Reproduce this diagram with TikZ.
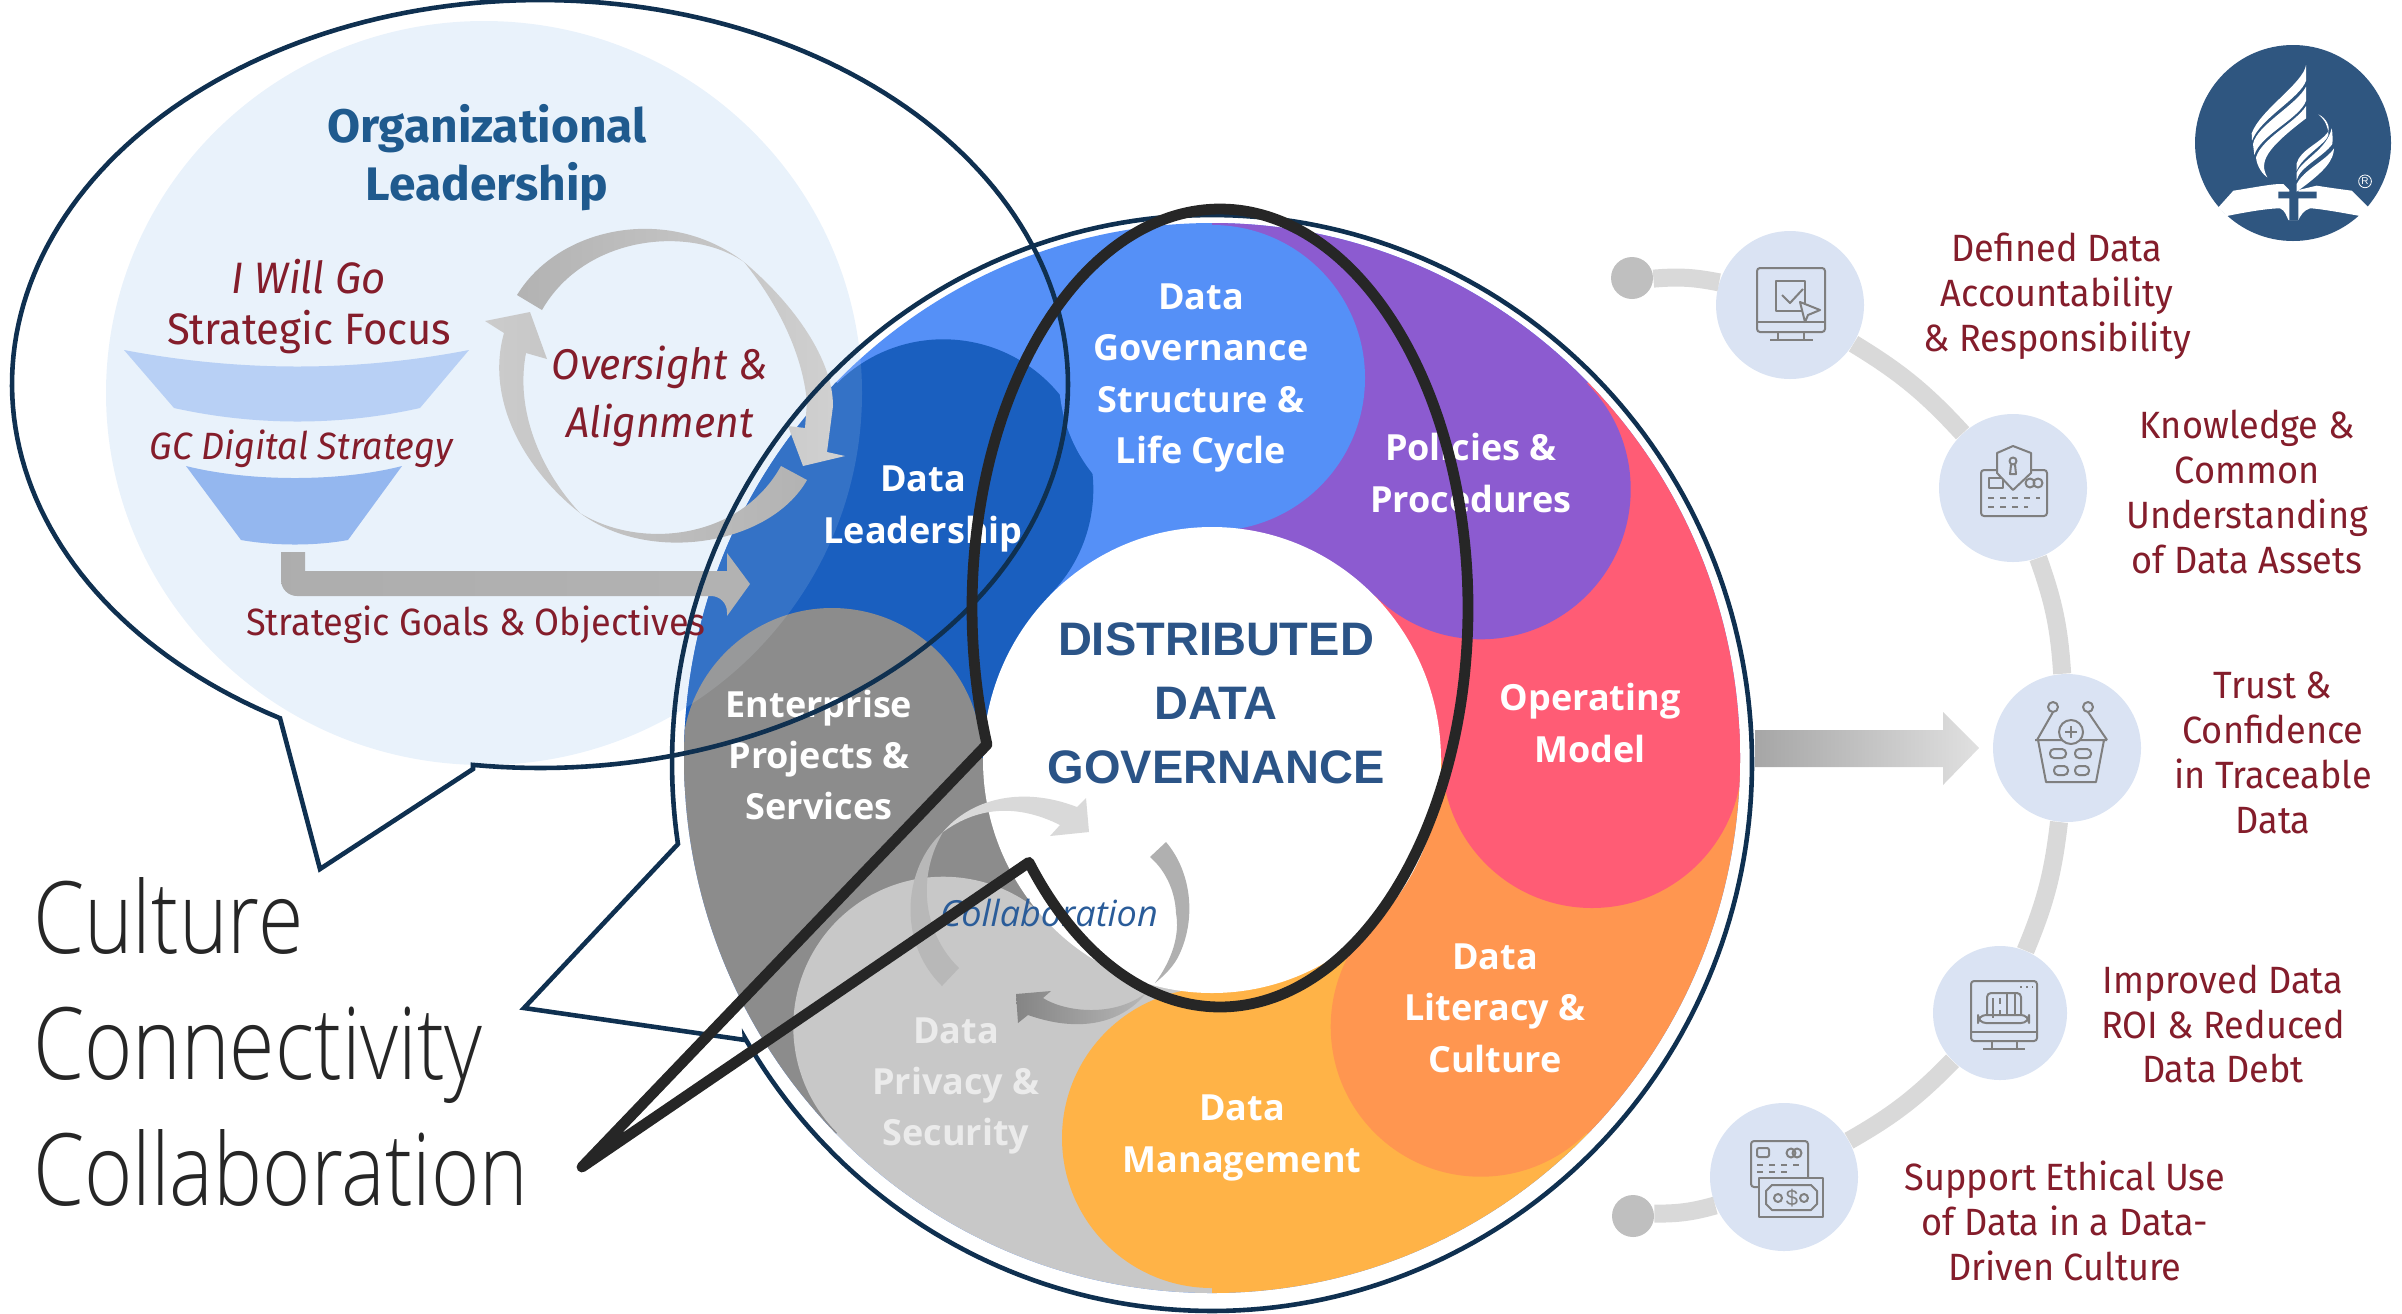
\documentclass[tikz,border=0pt]{standalone}
\usepackage{fontspec}
\setmainfont{Open Sans}
\newfontfamily\bahn[FakeStretch=.95]{Fira Sans}
\newfontfamily\bahnb[FakeStretch=1.02]{Fira Sans}
\newfontfamily\bigf[FakeStretch=.825]{Open Sans Light}
\newfontfamily\arialf{Liberation Sans}
\definecolor{navyln}{HTML}{0F3050}
\definecolor{bgblue}{HTML}{E9F2FB}
\definecolor{funA}{HTML}{B8D0F5}
\definecolor{funB}{HTML}{94B7EF}
\definecolor{inkred}{HTML}{841D2B}
\definecolor{inkblue}{HTML}{1F5A8E}
\definecolor{midblue}{HTML}{2B5487}
\definecolor{colblue}{HTML}{2A5C99}
\definecolor{dgblue}{HTML}{5590F7}
\definecolor{ldblue}{HTML}{1A5FBF}
\definecolor{dkgray}{HTML}{8C8C8C}
\definecolor{ltgray}{HTML}{C8C8C8}
\definecolor{yel}{HTML}{FFB347}
\definecolor{ora}{HTML}{FF9650}
\definecolor{redd}{HTML}{FF5C75}
\definecolor{pur}{HTML}{8C5BD0}
\definecolor{iconbg}{HTML}{DAE3F3}
\definecolor{iconln}{HTML}{7F7F7F}
\definecolor{logoblue}{HTML}{2F5680}
\tikzset{
  wheellab/.style={text=white,align=center,font=\bfseries\fontsize{18}{25.7}\selectfont},
  redlab/.style={text=inkred,align=center,font=\bahn\fontsize{19}{22.4}\selectfont},
  redit/.style={text=inkred,align=center,font=\bahn\itshape\fontsize{22}{25.5}\selectfont},
  iconcirc/.style={circle,fill=iconbg,minimum size=74pt,inner sep=0pt},
  armdot/.style={circle,fill=black!25,minimum size=21pt,inner sep=0pt},
  armline/.style={draw=black!15,line width=9pt},
  ic/.style={draw=iconln,line width=1pt,line join=round},
  navyline/.style={draw=navyln,line width=2.3pt,line join=miter},
  blackline/.style={draw=black!85,line width=5.4pt,line join=round},
}
% #1 colour, #2 tail angle, #3 head angle
\newcommand{\ringseg}[3]{%
  \fill[#1] (0,0) -- (#2:900) -- ({(#2+#3)/2}:1000) -- (#3:900) -- cycle;
  \fill[#1] (#3:380) circle[radius=150];
}
\begin{document}
\begin{tikzpicture}[x=0.5pt,y=-0.5pt]
\useasboundingbox (0,0) rectangle (2402,1313);
% left pale ellipse
\fill[bgblue] (484,393) circle[x radius=378,y radius=372];
% funnels
\fill[funA] (124,350) .. controls (240,372) and (355,372) .. (469,350) -- (420,408)
  .. controls (340,426) and (255,426) .. (174,408) -- cycle;
\fill[funB] (186,466) .. controls (250,482) and (340,482) .. (402,466) -- (348,540)
  .. controls (315,546) and (275,546) .. (241,540) -- cycle;
% wheel
\begin{scope}[shift={(1212,758)}]
  \begin{scope}
    \clip (0,0) circle[x radius=528,y radius=535];
    \fill[dgblue] (-600,-600) rectangle (600,600);
    \ringseg{ldblue}{180}{225}
    \ringseg{dkgray}{135}{180}
    \ringseg{ltgray}{90}{135}
    \ringseg{yel}{45}{90}
    \ringseg{ora}{0}{45}
    \ringseg{redd}{-45}{0}
    \ringseg{pur}{-90}{-45}
    \fill[dgblue] (-90:380) circle[radius=153];
    % pale overlay of the ellipse
    \fill[bgblue,opacity=.13] (484-1212,393-758) circle[x radius=378,y radius=372];
  \end{scope}
  \fill[white] (0,2) circle[x radius=229,y radius=233];
\end{scope}
% collaboration arrows
\fill[black!15] (943,832) .. controls (970,800) and (1020,785) .. (1077,807) -- (1086,798) -- (1089,832) -- (1050,836) -- (1060,825)
  .. controls (1020,805) and (980,805) .. (943,832) -- cycle;
\fill[black!28] (943,832) .. controls (905,865) and (895,940) .. (942,986) -- (959,968)
  .. controls (925,935) and (915,880) .. (943,832) -- cycle;
\fill[black!31] (1166,842) .. controls (1190,870) and (1197,915) .. (1180,953) .. controls (1175,965) and (1165,975) .. (1155,983)
  .. controls (1172,960) and (1180,935) .. (1176,913) .. controls (1175,890) and (1165,870) .. (1150,857) -- cycle;
\shade[left color=black!48,right color=black!28]
  (1016,994) -- (1051,991) -- (1043,998) .. controls (1065,1012) and (1115,1018) .. (1147,992)
  .. controls (1125,1020) and (1085,1035) .. (1028,1015) -- (1018,1023) -- cycle;
% text of the wheel
\node[wheellab] (dg) at (1201,378) {Data\\Governance\\Structure \&\\Life Cycle};
\node[wheellab] (ldr) at (923,509) {Data\\Leadership};
\node[wheellab] (pol) at (1471,473) {Policies \&\\Procedures};
\node[wheellab] (opm) at (1590,723) {Operating\\Model};
\node[wheellab] (lit) at (1495,1008) {Data\\Literacy \&\\Culture};
\node[wheellab] (mgt) at (1242,1138) {Data\\Management};
\node[wheellab,text=white!92!black] (prv) at (956,1086) {Data\\Privacy \&\\Security};
\node[wheellab] (ent) at (819,755) {Enterprise\\Projects \&\\Services};
\node[text=midblue,align=center,font=\arialf\bfseries\fontsize{23.5}{32}\selectfont] (ddg) at (1216,703)
  {DISTRIBUTED\\DATA\\GOVERNANCE};
\node[text=colblue,font=\itshape\fontsize{18}{22}\selectfont] (col) at (1049,913) {Collaboration};
% left texts
\node[text=inkblue,align=center,font=\bahnb\bfseries\fontsize{23.5}{29}\selectfont] (org) at (487,158)
  {Organizational\\Leadership};
\node[redit] (iwg) at (309,307) {I Will Go\\{\upshape Strategic Focus}};
\node[redit,font=\bahn\itshape\fontsize{19}{25}\selectfont] (gcd) at (301,449) {GC Digital Strategy};
\node[redit,font=\bahn\itshape\fontsize{21.5}{29}\selectfont] (ova) at (660,396) {Oversight \&\\Alignment};
\node[redlab,font=\bahn\fontsize{19}{22.4}\selectfont] (sgo) at (476,625) {Strategic Goals \& Objectives};
% oversight arrows
\shade[left color=black!30,right color=black!18]
  (517,295) .. controls (560,225) and (670,205) .. (744,262)
  .. controls (795,305) and (833,360) .. (833,406) -- (827,452) -- (845,456) -- (803,466) -- (788,426) -- (805,428)
  -- (807,402) .. controls (802,350) and (775,300) .. (744,262)
  .. controls (690,225) and (585,235) .. (542,310) -- cycle;
\shade[left color=black!20,right color=black!30]
  (807,480) .. controls (770,545) and (650,565) .. (580,513)
  .. controls (525,470) and (485,400) .. (504,333) -- (485,321) -- (530,312) -- (547,359) -- (526,353)
  .. controls (515,410) and (540,470) .. (580,513)
  .. controls (640,550) and (740,540) .. (781,466) -- cycle;
% goals arrow
\shade[left color=black!32,middle color=black!15,right color=black!30,rounded corners=8pt]
  (281,552) -- (281,596) -- (727,596) [sharp corners] -- (727,616) -- (750,584) -- (727,553) -- (727,571) -- (305,571) -- (305,552) -- cycle;
% output arrow
\shade[left color=black!35,right color=black!12]
  (1755,730) -- (1943,730) -- (1943,712) -- (1979,748) -- (1943,785) -- (1943,767) -- (1755,767) -- cycle;
% big text
\node[anchor=west,text=black!85,align=left,font=\bigf\fontsize{50}{63}\selectfont] (ccc) at (26,1042)
  {Culture\\Connectivity\\Collaboration};
% outlines
\draw[navyline] plot[domain=119.5:457.3,samples=220] ({540+528*cos(\x)},{384+384*sin(\x)}) -- (473,769) -- (320,869) -- cycle;
\draw[navyline] plot[domain=171.5:509.9,samples=260] ({1212+540*cos(\x)},{763+548*sin(\x)}) -- (745,1040) -- (524,1008) -- cycle;
\draw[blackline] plot[domain=160:500.4,samples=260] ({1220+248*cos(\x)},{608+399*sin(\x)}) -- (582,1167) -- cycle;
% right arm
\node[armdot] (d1) at (1632,278) {};
\node[armdot] (d2) at (1633,1216) {};
\node[iconcirc] (c1) at (1790,305) {};
\node[iconcirc] (c2) at (2013,488) {};
\node[iconcirc] (c3) at (2067,748) {};
\node[iconcirc,minimum size=67pt] (c4) at (2000,1013) {};
\node[iconcirc] (c5) at (1784,1177) {};
\draw[armline] (d1) to[bend left=8] (c1);
\draw[armline] (c1) to[bend left=8] (c2);
\draw[armline] (c2) to[bend left=8] (c3);
\draw[armline] (c3) to[bend left=8] (c4);
\draw[armline] (c4) to[bend left=8] (c5);
\draw[armline] (c5) to[bend left=8] (d2);
% right labels
\node[redlab] (l1) at (2057,296) {Defined Data\\Accountability\\\& Responsibility};
\node[redlab] (l2) at (2247,492) {Knowledge \&\\Common\\Understanding\\of Data Assets};
\node[redlab] (l3) at (2273,753) {Trust \&\\Confidence\\in Traceable\\Data};
\node[redlab] (l4) at (2223,1024) {Improved Data\\ROI \& Reduced\\Data Debt};
\node[redlab] (l5) at (2065,1221) {Support Ethical Use\\of Data in a Data-\\Driven Culture};
% icon 1
\draw[ic,rounded corners=1.5pt] (1757,268) rectangle (1825,332);
\draw[ic] (1757,322) -- (1825,322) (1778,332) -- (1778,340) (1804,332) -- (1804,340) (1770,340) -- (1813,340);
\draw[ic] (1776,281) rectangle (1805,311);
\draw[ic] (1782,295) -- (1790,303) -- (1803,289);
\draw[ic,fill=iconbg] (1800,302) -- (1820,310) -- (1808,315) -- (1805,322) -- cycle;
% icon 2
\draw[ic,rounded corners=1.5pt] (1981,470) rectangle (2047,516);
\draw[ic] (1989,478) rectangle (2003,488);
\draw[ic] (2030,483) circle[radius=4.5] (2038,483) circle[radius=4.5];
\draw[ic,fill=iconbg] (2013,446) -- (1997,453) -- (1997,473) -- (2013,490) -- (2031,473) -- (2031,453) -- cycle;
\draw[ic] (2013,461) circle[radius=3.5] (2011,465) -- (2010,474) -- (2016,474) -- (2015,465);
\draw[ic,dashed] (1988,498) -- (2040,498) (1988,507) -- (2028,507);
% icon 3
\draw[ic] (2035,740) -- (2107,740) (2038,740) -- (2046,782) -- (2096,782) -- (2104,740);
\draw[ic] (2037,740) -- (2053,712) (2107,740) -- (2088,712);
\draw[ic] (2053,707) circle[radius=5] (2088,707) circle[radius=5];
\draw[ic,fill=iconbg] (2071,732) circle[radius=12];
\draw[ic] (2065,732) -- (2077,732) (2071,726) -- (2071,738);
\draw[ic,rounded corners=2pt] (2050,749) rectangle (2066,758) (2075,749) rectangle (2091,758)
  (2054,766) rectangle (2068,775) (2075,766) rectangle (2089,775);
% icon 4
\draw[ic,rounded corners=1.5pt] (1971,981) rectangle (2037,1041);
\draw[ic] (1971,1032) -- (2037,1032) (1992,1041) -- (1992,1049) (2017,1041) -- (2017,1049) (1983,1049) -- (2025,1049);
\draw[ic,dotted] (2020,987) -- (2033,987);
\draw[ic,rounded corners=2pt] (1987,1015) -- (1987,993) -- (2021,993) -- (2021,1015);
\draw[ic,rounded corners=4pt] (1978,1015) rectangle (2029,1023);
\draw[ic] (2007,993) -- (2007,1015) (2015,993) -- (2015,1015) (1993,998) -- (1993,1018);
\draw[ic,dashed] (2000,998) -- (2000,1018);
% icon 5
\draw[ic,rounded corners=1.5pt] (1808,1178) -- (1808,1141) -- (1751,1141) -- (1751,1187) -- (1759,1187);
\draw[ic,rounded corners=1pt] (1757,1148) rectangle (1769,1157);
\draw[ic] (1791,1153) circle[radius=4.5] (1797,1153) circle[radius=4.5];
\draw[ic,dashed] (1757,1165) -- (1802,1165);
\draw[ic,dashed] (1757,1172) -- (1788,1172);
\draw[ic,line width=1.2pt] (1759,1178) rectangle (1823,1217);
\draw[ic] (1772,1185) -- (1811,1185) -- (1817,1191) -- (1817,1204) -- (1811,1210) -- (1772,1210) -- (1766,1204) -- (1766,1191) -- cycle;
\draw[ic] (1778,1198) circle[radius=4] (1804,1198) circle[radius=4];
\node[text=iconln,font=\arialf\fontsize{11}{11}\selectfont,inner sep=0pt] (dollar) at (1792,1198) {\$};
% logo
\fill[logoblue] (2293,143) circle[radius=98];
\begin{scope}[shift={(2150,20)},x=0.16667pt,y=-0.16667pt]
  \fill[white] (205,562) -- (250,512) .. controls (300,505) and (370,490) .. (400,492) -- (418,510) -- (445,510) -- (500,497)
     .. controls (550,505) and (590,510) .. (605,512) -- (655,562) -- (630,588)
     .. controls (560,575) and (500,565) .. (480,565) .. controls (460,570) and (450,590) .. (445,600) -- (415,600)
     .. controls (410,590) and (405,570) .. (390,565) .. controls (350,565) and (280,578) .. (230,588) -- cycle;
  \fill[logoblue] (418,490) rectangle (445,600) (385,515) rectangle (500,535);
  \fill[white] (468,135) .. controls (460,190) and (330,270) .. (305,340) -- (306,362)
     .. controls (330,295) and (450,235) .. (468,182) -- cycle;
  \fill[white] (468,200) .. controls (440,255) and (320,315) .. (309,372) -- (313,405)
     .. controls (330,345) and (450,295) .. (468,242) -- cycle;
  \fill[white] (468,258) .. controls (440,305) and (335,355) .. (318,412)
     .. controls (320,440) and (340,465) .. (352,472) .. controls (325,425) and (350,385) .. (468,295) -- cycle;
  \fill[white] (505,283) .. controls (530,295) and (540,320) .. (535,335)
     .. controls (510,370) and (450,390) .. (440,430) -- (440,452) .. controls (455,410) and (530,370) .. (535,345)
     .. controls (535,320) and (525,300) .. (505,283) -- cycle;
  \fill[white] (545,325) .. controls (548,340) and (548,360) .. (547,372)
     .. controls (520,410) and (450,440) .. (440,480) -- (440,458) .. controls (455,420) and (530,390) .. (545,325) -- cycle;
  \fill[white] (552,385) .. controls (550,420) and (530,450) .. (440,515) -- (440,492)
     .. controls (460,450) and (530,420) .. (552,385) -- cycle;
  \node[text=white,draw=white,circle,line width=.4pt,inner sep=.5pt,font=\arialf\fontsize{5}{5}\selectfont] (reg) at (645,484) {R};
\end{scope}
\end{tikzpicture}
\end{document}
